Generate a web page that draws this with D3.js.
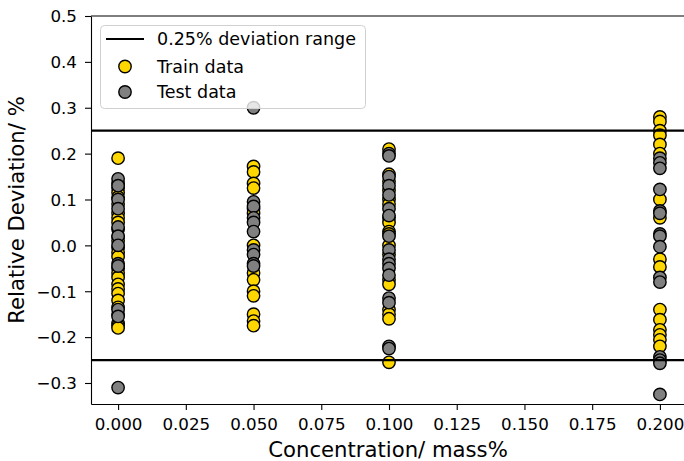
<!DOCTYPE html>
<html>
<head>
<meta charset="utf-8">
<script src="https://cdn.jsdelivr.net/npm/d3@7"></script>
<style>
  html, body { margin: 0; padding: 0; background: #fff; }
  svg { display: block; font-family: "DejaVu Sans", sans-serif; }
</style>
</head>
<body>
<svg id="chart" width="684" height="461"></svg>
<script>
// Concentrations sampled (mass%)
const concentrations = [0.0, 0.05, 0.1, 0.2];

// Relative deviation (%) of the training points at each concentration
const train000 = [0.19, 0.135, 0.125, 0.115, 0.105, 0.09, 0.07, 0.06, 0.05, 0.035, 0.02, 0.01,
  -0.005, -0.015, -0.025, -0.05, -0.06, -0.07, -0.085, -0.095, -0.105, -0.12, -0.135,
  -0.15, -0.17, -0.175, -0.18];
const train005 = [0.172, 0.16, 0.135, 0.125, 0.08, 0.07, 0.0, -0.06, -0.075, -0.1, -0.11,
  -0.15, -0.165, -0.175];
const train010 = [0.21, 0.155, 0.14, 0.12, 0.1, 0.09, 0.06, 0.05, 0.03, 0.025, 0.0, -0.02,
  -0.075, -0.085, -0.14, -0.15, -0.16, -0.255];
const train020 = [0.28, 0.27, 0.25, 0.24, 0.22, 0.2, 0.1, 0.06, -0.03, -0.047, -0.14,
  -0.162, -0.184, -0.195, -0.206, -0.22];

// Relative deviation (%) of the test points at each concentration
const test000 = [0.145, 0.13, 0.1, 0.08, 0.04, 0.02, 0.0, -0.04, -0.045, -0.14, -0.155, -0.31];
const test005 = [0.3, 0.095, 0.085, 0.06, 0.05, 0.03, -0.01, -0.02, -0.04, -0.045];
const test010 = [0.2, 0.195, 0.15, 0.13, 0.11, 0.08, 0.065, 0.02, -0.01, -0.03, -0.04, -0.05,
  -0.065, -0.115, -0.125, -0.22, -0.225];
const test020 = [0.19, 0.18, 0.168, 0.122, 0.075, 0.07, 0.025, 0.02, -0.003, -0.07, -0.08,
  -0.243, -0.25, -0.257, -0.325];

// Tick values
const xTicks = [0.0, 0.025, 0.05, 0.075, 0.1, 0.125, 0.15, 0.175, 0.2];
const yTicks = [-0.3, -0.2, -0.1, 0.0, 0.1, 0.2, 0.3, 0.4, 0.5];

// Tolerance band (±0.25 %)
const deviationLimits = [0.25, -0.25];

const trainSets = [train000, train005, train010, train020];
const testSets = [test000, test005, test010, test020];
const toPoints = sets => sets.flatMap((vals, i) => vals.map(v => ({ x: concentrations[i], y: v })));
const trainPoints = toPoints(trainSets);
const testPoints = toPoints(testSets);

const svg = d3.select("#chart");
const plotLeft = 91, plotRight = 687, plotTop = 16, plotBottom = 404;

const x = d3.scaleLinear().domain([-0.01, 0.21]).range([plotLeft, plotRight]);
const y = d3.scaleLinear().domain([-0.3458, 0.5]).range([plotBottom, plotTop]);

const tickFont = "16.7px";

// Scatter points (train first, test on top)
const pts = svg.append("g");
pts.selectAll("circle.train").data(trainPoints).join("circle")
  .attr("class", "train")
  .attr("cx", d => x(d.x)).attr("cy", d => y(d.y)).attr("r", 6.2)
  .attr("fill", "#FFD700").attr("stroke", "#000").attr("stroke-width", 1.4);
pts.selectAll("circle.test").data(testPoints).join("circle")
  .attr("class", "test")
  .attr("cx", d => x(d.x)).attr("cy", d => y(d.y)).attr("r", 6.2)
  .attr("fill", "#808080").attr("stroke", "#000").attr("stroke-width", 1.4);

// Horizontal limit lines
svg.append("g").selectAll("line").data(deviationLimits).join("line")
  .attr("x1", plotLeft).attr("x2", plotRight)
  .attr("y1", d => y(d)).attr("y2", d => y(d))
  .attr("stroke", "#000").attr("stroke-width", 2.2);

// Axes
const xAxis = svg.append("g").attr("transform", `translate(0,${plotBottom})`)
  .call(d3.axisBottom(x).tickValues(xTicks).tickFormat(d3.format(".3f"))
    .tickSize(6).tickSizeOuter(0).tickPadding(8));
const yAxis = svg.append("g").attr("transform", `translate(${plotLeft},0)`)
  .call(d3.axisLeft(y).tickValues(yTicks).tickFormat(d => d3.format(".1f")(d).replace("-", "−"))
    .tickSize(6).tickSizeOuter(0).tickPadding(8));
[xAxis, yAxis].forEach(a => {
  a.selectAll("text").attr("font-size", tickFont).attr("font-family", "DejaVu Sans").attr("fill", "#000");
  a.selectAll("line").attr("stroke", "#000").attr("stroke-width", 1.1);
  a.select(".domain").attr("stroke", "#000").attr("stroke-width", 1.1);
});
yAxis.selectAll("text").attr("dy", "0.35em");
// Top and right frame
svg.append("line").attr("x1", plotLeft).attr("x2", plotRight).attr("y1", plotTop).attr("y2", plotTop)
  .attr("stroke", "#000").attr("stroke-width", 1.1);
svg.append("line").attr("x1", plotRight).attr("x2", plotRight).attr("y1", plotTop).attr("y2", plotBottom)
  .attr("stroke", "#000").attr("stroke-width", 1.1);

// Axis titles
svg.append("text").attr("x", (plotLeft + plotRight) / 2 - 1).attr("y", 457)
  .attr("text-anchor", "middle").attr("font-size", "21.2px").attr("fill", "#000")
  .text("Concentration/ mass%");
svg.append("text").attr("transform", `translate(24,${(plotTop + plotBottom) / 2}) rotate(-90)`)
  .attr("text-anchor", "middle").attr("font-size", "21.2px").attr("fill", "#000")
  .text("Relative Deviation/ %");

// Legend
const lg = svg.append("g");
lg.append("rect").attr("x", 100.5).attr("y", 25.5).attr("width", 265).attr("height", 83)
  .attr("rx", 4).attr("fill", "#fff").attr("fill-opacity", 0.8)
  .attr("stroke", "#d0d0d0").attr("stroke-width", 1);
lg.append("line").attr("x1", 106).attr("x2", 144).attr("y1", 39).attr("y2", 39)
  .attr("stroke", "#000").attr("stroke-width", 2.2);
lg.append("circle").attr("cx", 125).attr("cy", 66.5).attr("r", 6.2)
  .attr("fill", "#FFD700").attr("stroke", "#000").attr("stroke-width", 1.4);
lg.append("circle").attr("cx", 125).attr("cy", 92).attr("r", 6.2)
  .attr("fill", "#808080").attr("stroke", "#000").attr("stroke-width", 1.4);
const labels = ["0.25% deviation range", "Train data", "Test data"];
const labelY = [39, 66.5, 92];
lg.selectAll("text.lbl").data(labels).join("text").attr("class", "lbl")
  .attr("x", 157).attr("y", (d, i) => labelY[i]).attr("dy", "0.35em")
  .attr("font-size", "17.5px").attr("fill", "#000").text(d => d);
</script>
</body>
</html>
